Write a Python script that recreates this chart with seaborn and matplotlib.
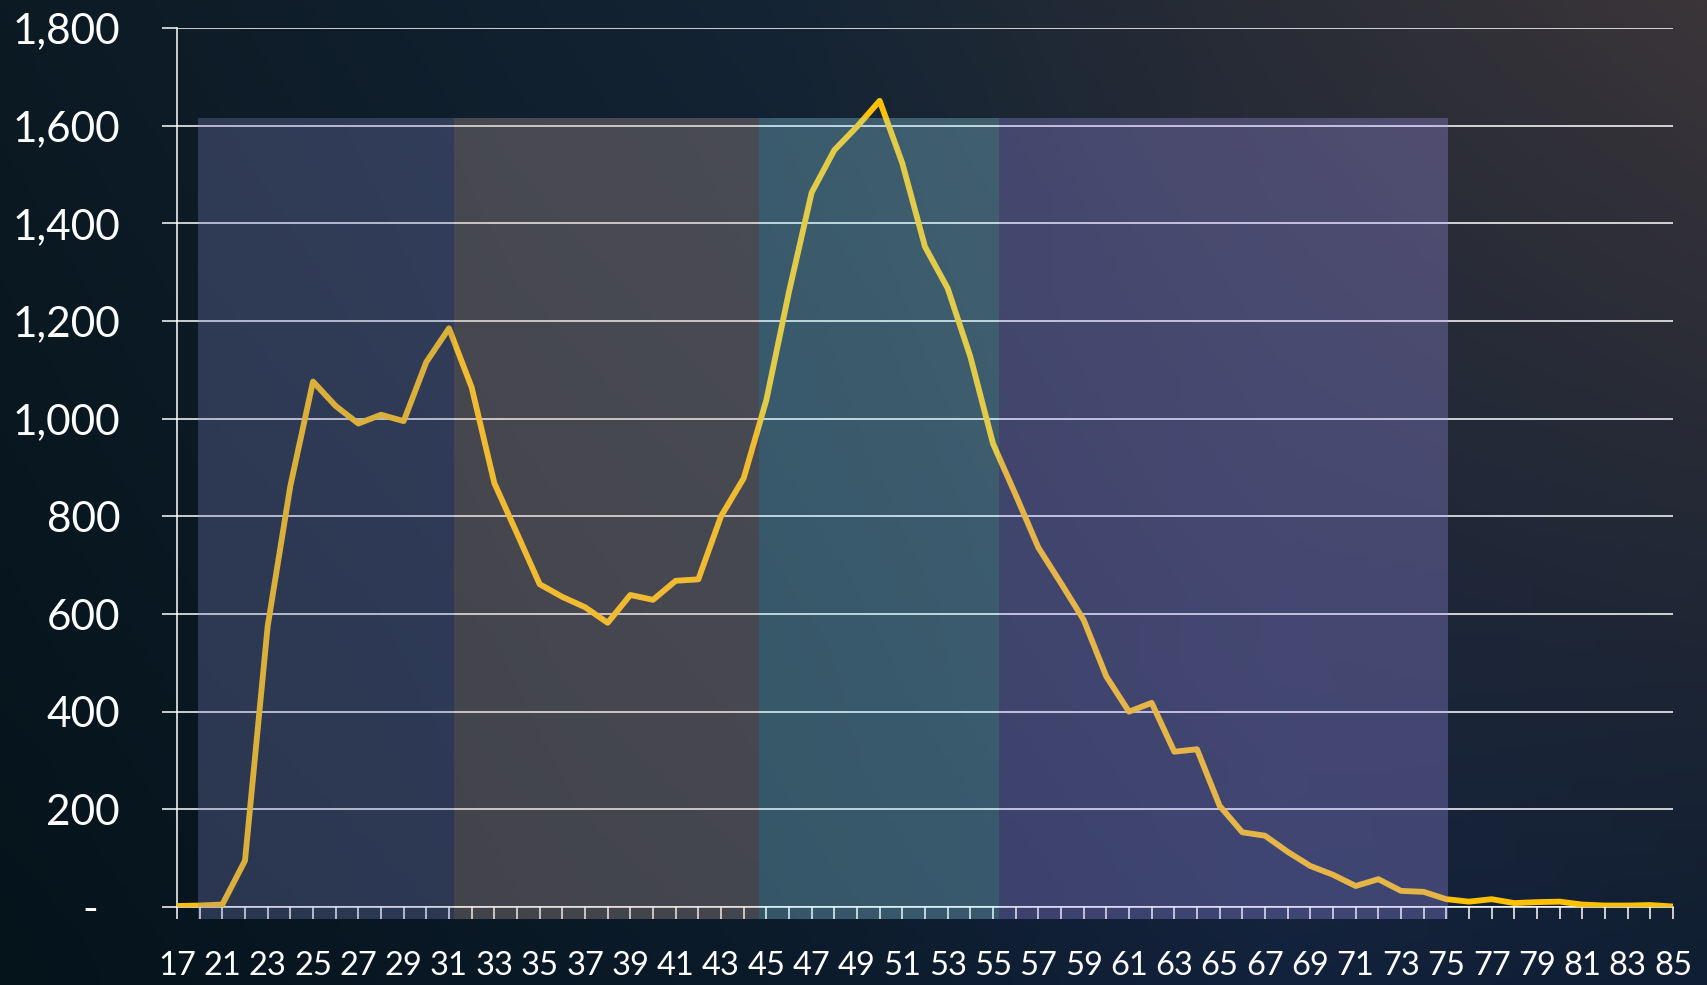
import numpy as np
import pandas as pd
import matplotlib
matplotlib.use("Agg")
import matplotlib.pyplot as plt
import matplotlib.colors as mcolors
import seaborn as sns

# age categories (second one is never labelled on the axis)
ages = [17, 20] + list(range(21, 86))
counts = [2, 3, 5, 95, 575, 862, 1076, 1026, 990, 1008,
          995, 1116, 1185, 1064, 868, 765, 661, 635, 614, 582,
          639, 629, 668, 671, 800, 878, 1038, 1260, 1463, 1550,
          1598, 1651, 1523, 1352, 1267, 1127, 949, 844, 736, 663,
          588, 472, 400, 418, 318, 323, 207, 153, 146, 113,
          84, 66, 43, 57, 33, 31, 16, 11, 16, 8,
          10, 11, 5, 3, 3, 4, 1]
y_ticks = [0, 200, 400, 600, 800, 1000, 1200, 1400, 1600, 1800]

# shaded age bands drawn over the chart (category positions)
band_edges = [0.93, 12.23, 25.66, 36.28, 56.07]
band_colors = ['#8689C9', '#D2B0AA', '#9DE9FF', '#A99BFA']
band_top, band_bottom = 1616, -25

df = pd.DataFrame({'pos': np.arange(len(ages)), 'count': counts})

sns.set_style('dark')
plt.rcParams['font.family'] = ['Lato', 'DejaVu Sans']

fig = plt.figure(figsize=(17.07, 9.85), dpi=100)

# background gradient
bg = fig.add_axes([0, 0, 1, 1], zorder=-1)
xs = np.linspace(0, 1, 400)
stops = [0, 0.45, 0.75, 1]
top = [mcolors.to_rgb(c) for c in ['#0c1a24', '#142434', '#2a2d36', '#3b3539']]
bot = [mcolors.to_rgb(c) for c in ['#05131b', '#0b1b2a', '#13223d', '#0f1e32']]
top_row = np.stack([np.interp(xs, stops, [c[k] for c in top]) for k in range(3)], axis=-1)
bot_row = np.stack([np.interp(xs, stops, [c[k] for c in bot]) for k in range(3)], axis=-1)
t = np.linspace(0, 1, 200)[:, None, None]
grad = top_row[None] * (1 - t) + bot_row[None] * t
bg.imshow(grad, aspect='auto', extent=[0, 1, 0, 1], origin='upper')
bg.axis('off')

ax = fig.add_axes([177 / 1707, 1 - 907 / 985, (1673 - 177) / 1707, (907 - 28) / 985])
ax.set_facecolor('none')

sns.lineplot(data=df, x='pos', y='count', ax=ax, color='#FFC000', linewidth=4.2, zorder=3)

for i in range(len(band_colors)):
    ax.fill_between([band_edges[i], band_edges[i + 1]], band_bottom, band_top,
                    color=band_colors[i], alpha=0.29, lw=0, zorder=5, clip_on=False)

ax.set_xlim(0, len(ages) - 1)
ax.set_ylim(0, 1800)
ax.set_yticks(y_ticks)
ax.set_yticklabels([f'{v:,}' if v else '-  ' for v in y_ticks])
ax.set_xticks(np.arange(len(ages)))
ax.set_xticklabels([str(a) if i % 2 == 0 else '' for i, a in enumerate(ages)])

ax.grid(axis='y', color='white', linewidth=1.1, zorder=1)
ax.grid(axis='x', visible=False)
ax.set_axisbelow(True)
for side in ['top', 'right']:
    ax.spines[side].set_visible(False)
for side in ['left', 'bottom']:
    ax.spines[side].set_visible(True)
    ax.spines[side].set_color('white')
    ax.spines[side].set_linewidth(1.1)

ax.tick_params(axis='y', colors='white', labelsize=30.5, length=11, width=1.1,
               direction='out', pad=30, left=True)
ax.tick_params(axis='x', colors='white', labelsize=23.5, length=8.6, width=1.1,
               direction='out', pad=23, bottom=True)
ax.set_xlabel('')
ax.set_ylabel('')

fig.savefig('out.png', dpi=100)
